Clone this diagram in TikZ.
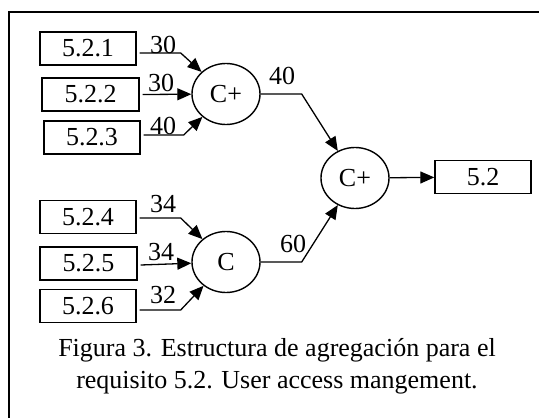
\documentclass[tikz,border=0pt]{standalone}
\usepackage{fontspec}
\setmainfont{Liberation Serif}
\usetikzlibrary{arrows.meta,shapes.geometric}
\begin{document}
\begin{tikzpicture}[x=1pt,y=-1pt,
  every node/.style={font=\fontsize{26}{32}\selectfont},
  box/.style={draw,line width=1.4pt,minimum width=96pt,minimum height=33pt,inner sep=0pt},
  agg/.style={draw,line width=1.4pt,ellipse,minimum width=68pt,minimum height=61pt,inner sep=0pt},
  arr/.style={line width=1.3pt,-{Triangle[length=14pt,width=12pt]}},
  wlab/.style={inner sep=0pt,anchor=base}
]
\useasboundingbox (0,0) rectangle (539,418);
\draw[line width=1.4pt] (539,12) -- (9,12) -- (9,418);
% boxes
\node[box] (b1) at (88,48.5) {5.2.1};
\node[box,minimum width=97pt] (b2) at (90.5,94.5) {5.2.2};
\node[box] (b3) at (92,137.5) {5.2.3};
\node[box] (b4) at (88,217) {5.2.4};
\node[box,minimum width=97pt] (b5) at (88.5,263.5) {5.2.5};
\node[box] (b6) at (88,306) {5.2.6};
\node[box] (b52) at (483,177) {5.2};
% aggregators
\node[agg] (c1) at (226,94) {C+};
\node[agg] (c2) at (226,262) {C};
\node[agg] (c3) at (355,178) {C+};
% connectors group 1
\draw[arr] ([xshift=3pt,yshift=-4.5pt]b1.east) -- ++(41,0) -- (c1);
\draw[arr] ([xshift=3pt]b2.east) -- (c1);
\draw[arr] ([xshift=3pt,yshift=2.5pt]b3.east) -- ++(40,0) -- (c1);
% connectors group 2
\draw[arr] ([xshift=3pt,yshift=-1pt]b4.east) -- ++(41,0) -- (c2);
\draw[arr] ([xshift=3pt,yshift=-1.5pt]b5.east) -- (c2);
\draw[arr] ([xshift=3pt,yshift=-4pt]b6.east) -- ++(41,0) -- (c2);
% to top aggregator
\draw[arr] (c1.east) -- ++(41,0) -- (c3);
\draw[arr] (c2.east) -- ++(41,0) -- (c3);
\draw[arr] (c3) -- (b52);
% weights
\node[wlab] (w1) at (163,53) {30};
\node[wlab] (w2) at (161,91) {30};
\node[wlab] (w3) at (163,134) {40};
\node[wlab] (w4) at (163,212) {34};
\node[wlab] (w5) at (161,260) {34};
\node[wlab] (w6) at (163,303) {32};
\node[wlab] (w7) at (282,84) {40};
\node[wlab] (w8) at (293,252) {60};
% caption
\node[align=center,inner sep=0pt] (cap) at (277,366) {Figura 3. Estructura de agregación para el\\requisito 5.2. User access mangement.};
\end{tikzpicture}
\end{document}
